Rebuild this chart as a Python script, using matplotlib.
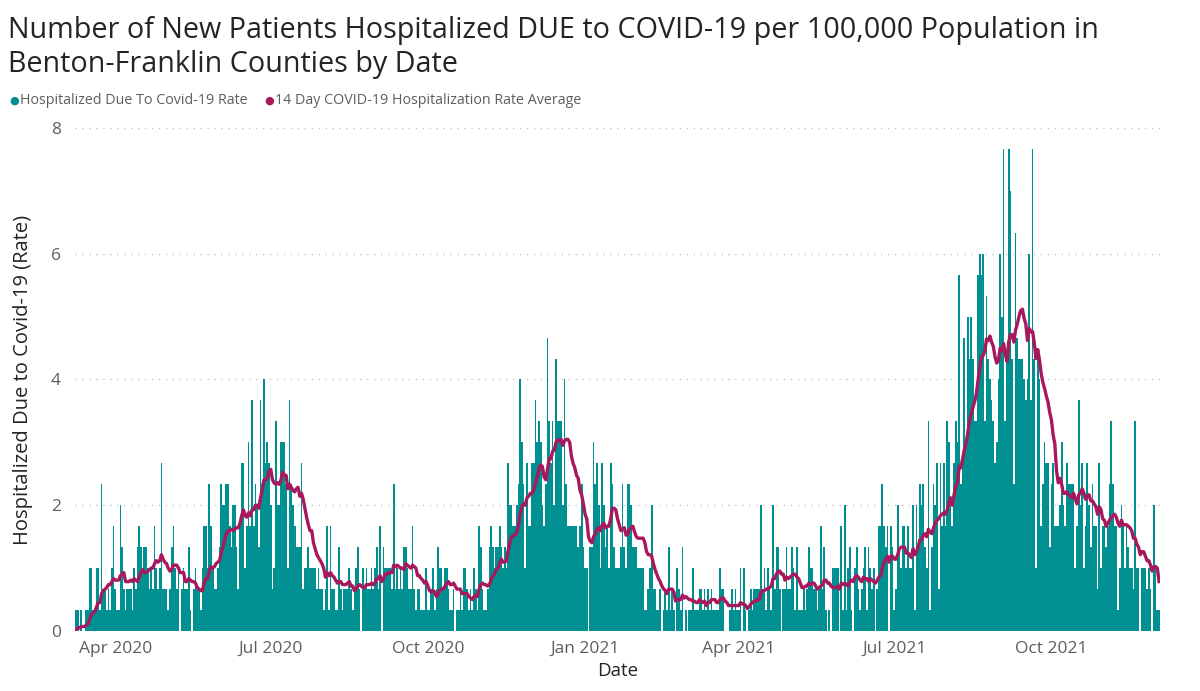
import matplotlib
matplotlib.use("Agg")
import matplotlib.pyplot as plt
import matplotlib.dates as mdates
import numpy as np
import pandas as pd

# daily count of new patients hospitalized due to COVID-19 (Benton-Franklin),
# read off the bars; one patient is 1/3 per 100,000 (pop. ~300k)
mar_2020 = [1, 1, 0, 1, 0, 0, 1, 1, 3, 3, 1, 1, 3, 3, 1, 7, 2, 2, 1, 2, 1, 3, 5]  # from Mar 9
apr_2020 = [2, 1, 1, 6, 4, 2, 1, 2, 2, 2, 1, 3, 2, 4, 5, 4, 3, 4, 4, 3, 2, 3, 2, 5, 3, 2, 3, 8, 2, 2]
may_2020 = [2, 1, 2, 4, 5, 3, 2, 3, 0, 2, 3, 2, 2, 4, 1, 0, 2, 3, 2, 2, 1, 3, 5, 5, 3, 7, 5, 3, 2, 2, 3]
jun_2020 = [4, 7, 6, 6, 7, 7, 5, 4, 6, 6, 4, 2, 5, 8, 8, 3, 5, 9, 5, 11, 5, 7, 6, 4, 11, 7, 12, 8, 9, 8]
jul_2020 = [6, 2, 3, 10, 6, 6, 9, 9, 9, 7, 3, 11, 7, 6, 5, 4, 4, 4, 8, 2, 3, 3, 4, 3, 3, 3, 3, 2, 3, 2, 2]
aug_2020 = [1, 2, 5, 1, 5, 2, 2, 1, 1, 4, 2, 1, 2, 2, 2, 3, 2, 1, 2, 3, 4, 2, 0, 3, 2, 3, 2, 2, 3, 2, 3]
sep_2020 = [4, 2, 5, 0, 4, 3, 3, 3, 3, 2, 7, 2, 3, 2, 3, 2, 4, 4, 3, 2, 2, 5, 2, 1, 2, 2, 1, 1, 1, 3]
oct_2020 = [1, 1, 2, 3, 1, 2, 4, 3, 3, 2, 3, 3, 2, 1, 1, 2, 0, 1, 1, 2, 1, 3, 3, 2, 1, 2, 1, 3, 2, 1, 5]
nov_2020 = [4, 2, 1, 1, 2, 4, 5, 4, 3, 4, 4, 5, 4, 3, 4, 3, 8, 6, 6, 5, 5, 6, 7, 12, 9, 7, 3, 8, 5, 5]
dec_2020 = [8, 8, 11, 9, 10, 9, 6, 5, 7, 14, 10, 8, 10, 6, 13, 10, 10, 10, 6, 12, 7, 5, 5, 5, 5, 5, 5, 4, 5, 7, 4]
jan_2021 = [3, 3, 0, 4, 4, 9, 7, 8, 6, 3, 8, 6, 4, 5, 3, 8, 7, 4, 3, 3, 3, 4, 7, 4, 3, 7, 7, 6, 4, 4, 4]
feb_2021 = [3, 3, 3, 3, 1, 1, 2, 3, 6, 2, 2, 1, 1, 2, 0, 1, 2, 1, 4, 1, 2, 1, 0, 3, 2, 1, 4, 0]
mar_2021 = [1, 0, 1, 1, 3, 1, 1, 1, 2, 2, 1, 2, 1, 2, 1, 2, 1, 1, 1, 1, 3, 2, 2, 0, 0, 0, 1, 2, 1, 2, 1]
apr_2021 = [1, 3, 0, 3, 1, 0, 1, 2, 1, 2, 2, 2, 2, 6, 2, 3, 1, 3, 2, 1, 6, 2, 4, 4, 2, 0, 2, 2, 4, 2]
may_2021 = [2, 4, 3, 1, 4, 1, 1, 1, 2, 1, 2, 4, 3, 3, 2, 2, 1, 2, 5, 2, 4, 1, 0, 1, 0, 3, 3, 3, 3, 0, 5]
jun_2021 = [1, 6, 1, 3, 4, 1, 0, 3, 4, 2, 1, 2, 3, 4, 1, 4, 3, 2, 3, 0, 2, 5, 5, 7, 5, 4, 5, 0, 5, 4]
jul_2021 = [1, 2, 6, 4, 3, 5, 5, 3, 5, 3, 3, 6, 1, 6, 4, 7, 6, 7, 4, 3, 10, 1, 4, 7, 6, 8, 2, 8, 5, 8, 5]
aug_2021 = [10, 9, 6, 5, 8, 10, 9, 17, 7, 8, 14, 9, 15, 13, 15, 13, 10, 10, 17, 18, 17, 18, 10, 16, 13, 12, 11, 10, 8, 9, 12]
sep_2021 = [18, 15, 23, 10, 13, 23, 21, 13, 7, 19, 14, 13, 13, 13, 12, 11, 12, 18, 11, 23, 13, 3, 13, 12, 5, 7, 9, 8, 8, 4]
oct_2021 = [7, 8, 5, 5, 5, 6, 9, 6, 5, 8, 7, 7, 7, 7, 3, 5, 11, 6, 8, 3, 5, 8, 6, 4, 7, 5, 5, 2, 8, 3, 5]
nov_2021 = [5, 4, 5, 7, 10, 7, 5, 5, 1, 3, 6, 5, 3, 5, 4, 3, 3, 2, 10, 3, 3, 0, 3, 3, 3, 2, 3, 2, 0, 6]
dec_2021 = [3, 1, 1]

START_DATE = "2020-03-09"
PER_100K = 100000 / 300000

TEAL = "#009091"
MAROON = "#A8185C"
DARK = "#252423"
GREY = "#605E5C"
FONT = ["Open Sans", "DejaVu Sans"]

plt.rcParams["font.family"] = FONT

counts = np.array(mar_2020 + apr_2020 + may_2020 + jun_2020 + jul_2020 + aug_2020
                  + sep_2020 + oct_2020 + nov_2020 + dec_2020 + jan_2021 + feb_2021
                  + mar_2021 + apr_2021 + may_2021 + jun_2021 + jul_2021 + aug_2021
                  + sep_2021 + oct_2021 + nov_2021 + dec_2021)
dates = pd.date_range(START_DATE, periods=len(counts), freq="D")
rate = pd.Series(counts * PER_100K, index=dates)
# 14 day average (sum of the last 14 days / 14)
avg14 = rate.rolling(14, min_periods=1).sum() / 14

fig = plt.figure(figsize=(12, 6.91), dpi=100)
ax = fig.add_axes([0.0625, 0.0868, 0.9042, 0.728])

ax.bar(dates, rate.values, width=1.0, color=TEAL, linewidth=0, zorder=2)
ax.plot(dates, avg14.values, color=MAROON, lw=2.4, zorder=3, solid_joinstyle="round")

ax.set_ylim(0, 8)
ax.set_yticks([0, 2, 4, 6, 8])
ax.set_xlim(dates[0] - pd.Timedelta(hours=14), dates[-1] + pd.Timedelta(hours=14))
ax.xaxis.set_major_locator(mdates.MonthLocator(bymonth=[1, 4, 7, 10]))
ax.xaxis.set_major_formatter(mdates.DateFormatter("%b %Y"))

ax.yaxis.grid(True, linestyle=(0, (1, 4)), color="#C8C6C4", lw=1.0, zorder=0)
ax.yaxis.get_gridlines()[0].set_visible(False)
for s in ax.spines.values():
    s.set_visible(False)
ax.tick_params(axis="both", length=0, labelsize=12.5, labelcolor=GREY)
ax.tick_params(axis="x", pad=7)
ax.tick_params(axis="y", pad=10)

ax.set_xlabel("Date", fontsize=13.5, color=DARK, labelpad=4)
ax.set_ylabel("Hospitalized Due to Covid-19 (Rate)", fontsize=14.5, color=DARK, labelpad=13)

fig.text(0.007, 1 - 16 / 691,
         "Number of New Patients Hospitalized DUE to COVID-19 per 100,000 Population in\n"
         "Benton-Franklin Counties by Date",
         fontsize=20.7, color=DARK, va="top", ha="left", linespacing=1.22)

# legend row
ly = 1 - 101 / 691
fig.text(0.0075, ly, "\u25CF", color=TEAL, fontsize=8, va="center", family="DejaVu Sans")
fig.text(0.0165, ly, "Hospitalized Due To Covid-19 Rate", color=GREY, fontsize=10.3, va="center")
fig.text(0.2205, ly, "\u25CF", color=MAROON, fontsize=8, va="center", family="DejaVu Sans")
fig.text(0.2295, ly, "14 Day COVID-19 Hospitalization Rate Average", color=GREY, fontsize=10.3,
         va="center")

fig.savefig("out.png", dpi=100)
